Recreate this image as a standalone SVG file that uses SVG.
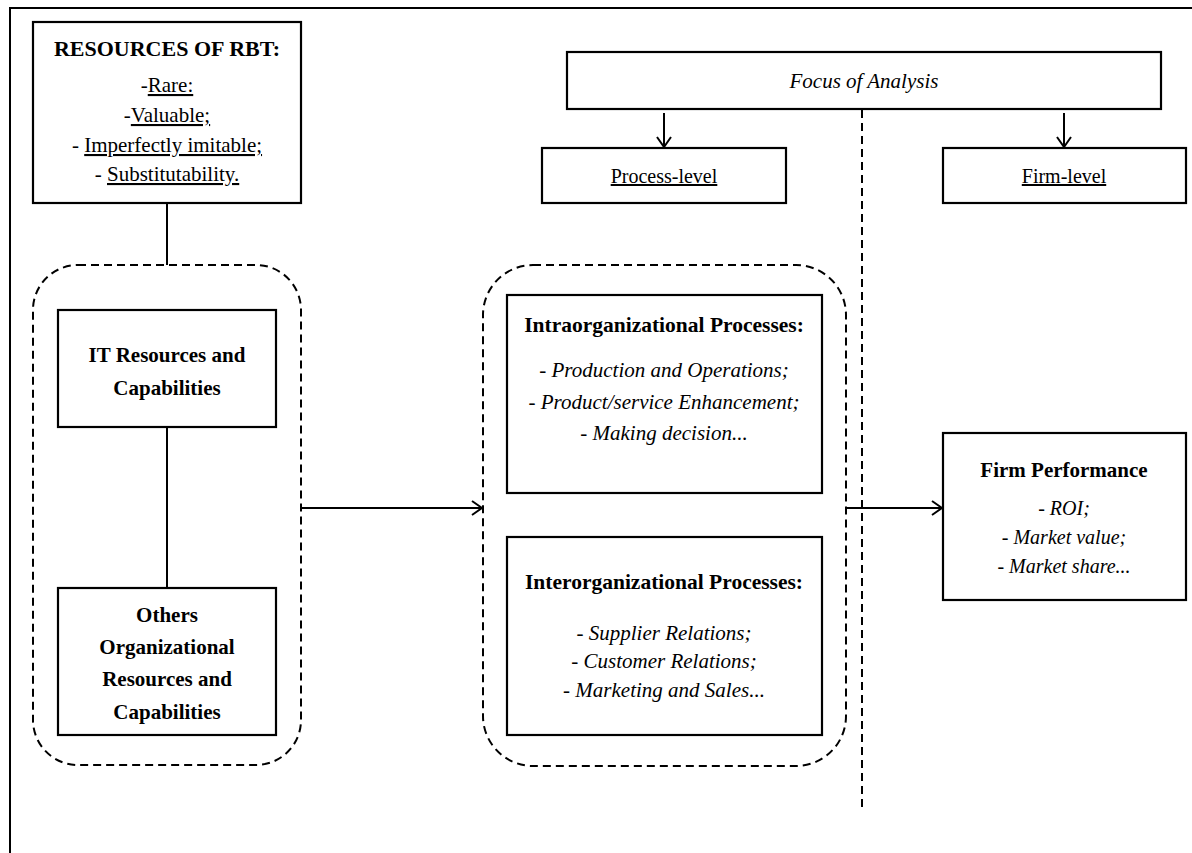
<svg xmlns="http://www.w3.org/2000/svg" width="1192" height="853" viewBox="0 0 1192 853">
<defs>
<style>
.box{fill:#fff;stroke:#000;stroke-width:2.2}
.dash{fill:none;stroke:#000;stroke-width:2;stroke-dasharray:8 5}
.ln{fill:none;stroke:#000;stroke-width:2}
text{font-family:"Liberation Serif","Times New Roman",serif;fill:#000;text-anchor:middle}
.b{font-weight:bold;font-size:21px}
.r{font-size:20px}
.i{font-style:italic;font-size:20px}
.u{text-decoration:underline}
.big{font-size:21px}
.title{font-size:22px}
</style>
<marker id="arr" markerWidth="12" markerHeight="16" refX="11" refY="8" orient="auto" markerUnits="userSpaceOnUse">
<path d="M1,1 L11,8 L1,15" fill="none" stroke="#000" stroke-width="2"/>
</marker>
</defs>
<rect width="1192" height="853" fill="#fff"/>
<g id="frame">
<path class="ln" d="M10,853 L10,8 L1192,8" stroke-width="2.6"/>
</g>
<g id="connectors">
<line class="ln" x1="167" y1="203" x2="167" y2="265"/>
<line class="ln" x1="167" y1="427" x2="167" y2="588"/>
<line class="ln" x1="301" y1="508" x2="482" y2="508" marker-end="url(#arr)"/>
<line class="ln" x1="846" y1="508" x2="942" y2="508" marker-end="url(#arr)"/>
<line class="ln" x1="664" y1="113" x2="664" y2="147" marker-end="url(#arr)"/>
<line class="ln" x1="1064" y1="113" x2="1064" y2="147" marker-end="url(#arr)"/>
<line class="dash" x1="862" y1="110" x2="862" y2="812"/>
</g>
<g id="rbt">
<rect class="box" x="33" y="22" width="268" height="181"/>
<text class="b title" x="167" y="56">RESOURCES OF RBT:</text>
<text class="r big" x="167" y="92">-<tspan class="u">Rare:</tspan></text>
<text class="r big" x="167" y="122">-<tspan class="u">Valuable;</tspan></text>
<text class="r big" x="167" y="152">- <tspan class="u">Imperfectly imitable;</tspan></text>
<text class="r big" x="167" y="181">- <tspan class="u">Substitutability.</tspan></text>
</g>
<g id="resources-group">
<rect class="dash" x="33" y="265" width="268" height="500" rx="45" ry="45"/>
</g>
<g id="it">
<rect class="box" x="58" y="310" width="218" height="117"/>
<text class="b" x="167" y="362">IT Resources and</text>
<text class="b" x="167" y="395">Capabilities</text>
</g>
<g id="others">
<rect class="box" x="58" y="588" width="218" height="147"/>
<text class="b" x="167" y="622">Others</text>
<text class="b" x="167" y="654">Organizational</text>
<text class="b" x="167" y="686">Resources and</text>
<text class="b" x="167" y="719">Capabilities</text>
</g>
<g id="focus">
<rect class="box" x="567" y="52" width="594" height="57"/>
<text class="i big" x="864" y="88">Focus of Analysis</text>
</g>
<g id="process-level">
<rect class="box" x="542" y="148" width="244" height="55"/>
<text class="r u" x="664" y="183">Process-level</text>
</g>
<g id="firm-level">
<rect class="box" x="943" y="148" width="243" height="55"/>
<text class="r u" x="1064" y="183">Firm-level</text>
</g>
<g id="processes-group">
<rect class="dash" x="483" y="265" width="363" height="501" rx="50" ry="50"/>
</g>
<g id="intra">
<rect class="box" x="507" y="295" width="315" height="198"/>
<text class="b" x="664" y="332" style="font-size:21.5px">Intraorganizational Processes:</text>
<text class="i big" x="664" y="377">- Production and Operations;</text>
<text class="i big" x="664" y="409">- Product/service Enhancement;</text>
<text class="i big" x="664" y="440">-  Making decision...</text>
</g>
<g id="inter">
<rect class="box" x="507" y="537" width="315" height="198"/>
<text class="b" x="664" y="589" style="font-size:21.5px">Interorganizational Processes:</text>
<text class="i big" x="664" y="640">- Supplier Relations;</text>
<text class="i big" x="664" y="668">- Customer Relations;</text>
<text class="i big" x="664" y="697">- Marketing and Sales...</text>
</g>
<g id="firm-performance">
<rect class="box" x="943" y="433" width="243" height="167"/>
<text class="b" x="1064" y="477">Firm Performance</text>
<text class="i" x="1064" y="515">- ROI;</text>
<text class="i" x="1064" y="544">- Market value;</text>
<text class="i" x="1064" y="573">- Market share...</text>
</g>
</svg>
